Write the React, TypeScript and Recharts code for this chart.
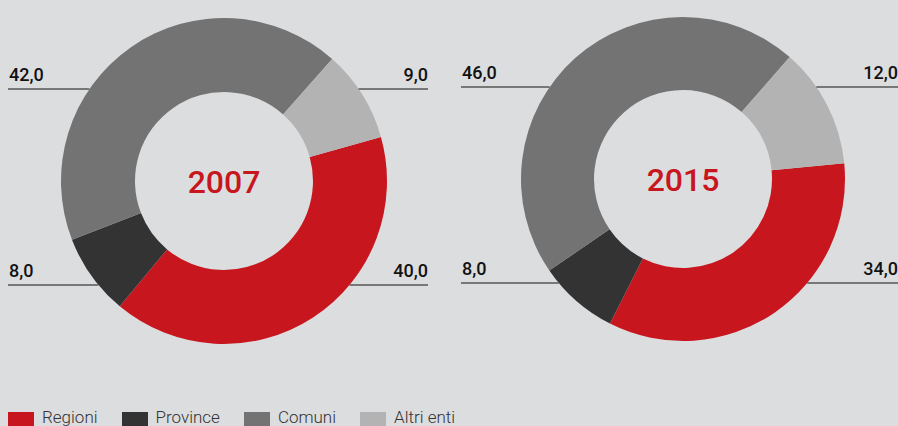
import { PieChart, Pie, Cell } from 'recharts';

const categories = ['Regioni', 'Province', 'Comuni', 'Altri enti'];
const values2007 = [40, 8, 42, 9];
const values2015 = [34, 8, 46, 12];
const years = ['2007', '2015'];
const colors = ['#c8161e', '#333333', '#737373', '#b3b3b3'];

const data2007 = categories.map((name, i) => ({ name, value: values2007[i] }));
const data2015 = categories.map((name, i) => ({ name, value: values2015[i] }));

const RAD = Math.PI / 180;
const FONT = 'Roboto, "DejaVu Sans", sans-serif';

// label with a horizontal leader line from the chart side to the ring,
// the first slice also carries the year in the hole
const makeLabel = (leftX: number, rightX: number, year: string) => (props: any) => {
  const { cx, cy, midAngle, outerRadius, value, index } = props;
  const right = Math.cos(midAngle * RAD) > 0;
  const upper = Math.sin(midAngle * RAD) > 0;
  const dy = upper ? -92 : 104;
  const y = cy + dy;
  const reach = Math.sqrt(outerRadius * outerRadius - dy * dy);
  const edge = right ? cx + reach : cx - reach;
  const x1 = right ? edge : leftX;
  const x2 = right ? rightX : edge;
  const txt = value.toFixed(1).replace('.', ',');
  return (
    <g key={`lbl-${index}`}>
      <line x1={x1} x2={x2} y1={y} y2={y} stroke="#555" strokeWidth={1.6} />
      <text
        x={right ? rightX : leftX + 1}
        y={y - 8}
        textAnchor={right ? 'end' : 'start'}
        fontFamily={FONT}
        fontWeight={500}
        fontSize={18}
        fill="#111"
      >
        {txt}
      </text>
      {index === 0 && (
        <text
          x={cx}
          y={cy + 12}
          textAnchor="middle"
          fontFamily={FONT}
          fontWeight={500}
          fontSize={32}
          fill="#c8161e"
        >
          {year}
        </text>
      )}
    </g>
  );
};

export default function App() {
  return (
    <div
      style={{
        position: 'absolute',
        left: 0,
        top: 0,
        width: 898,
        height: 426,
        background: '#dcdddf',
        overflow: 'hidden',
        fontFamily: FONT,
      }}
    >
      <PieChart width={898} height={400} margin={{ top: 0, right: 0, bottom: 0, left: 0 }}>
        <Pie
          data={data2007}
          dataKey="value"
          cx={224}
          cy={181}
          innerRadius={89}
          outerRadius={163}
          startAngle={15.7}
          endAngle={15.7 - 360}
          stroke="none"
          labelLine={false}
          label={makeLabel(8, 428, years[0])}
          isAnimationActive={false}
        >
          {data2007.map((d, i) => (
            <Cell key={d.name} fill={colors[i]} />
          ))}
        </Pie>
        <Pie
          data={data2015}
          dataKey="value"
          cx={683}
          cy={179}
          innerRadius={89}
          outerRadius={162}
          startAngle={5.6}
          endAngle={5.6 - 360}
          stroke="none"
          labelLine={false}
          label={makeLabel(461, 898, years[1])}
          isAnimationActive={false}
        >
          {data2015.map((d, i) => (
            <Cell key={d.name} fill={colors[i]} />
          ))}
        </Pie>
      </PieChart>
      <div
        style={{
          position: 'absolute',
          left: 8,
          top: 406,
          display: 'flex',
          alignItems: 'center',
          fontSize: 17,
          fontWeight: 300,
          color: '#333',
          whiteSpace: 'nowrap',
          lineHeight: '20px',
        }}
      >
        {categories.map((c, i) => (
          <div key={c} style={{ display: 'flex', alignItems: 'center', marginRight: 24 }}>
            <span
              style={{
                display: 'inline-block',
                width: 26,
                height: 16,
                background: colors[i],
                marginRight: 8,
                marginTop: 6,
              }}
            />
            <span>{c}</span>
          </div>
        ))}
      </div>
    </div>
  );
}
